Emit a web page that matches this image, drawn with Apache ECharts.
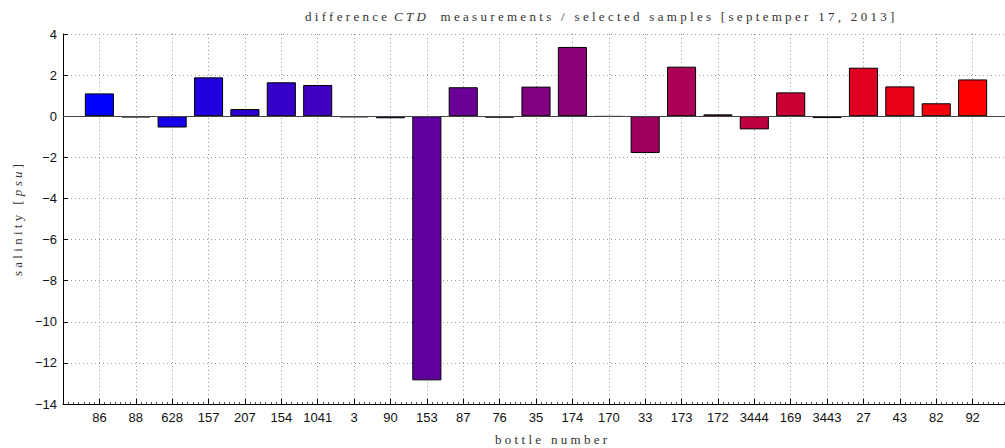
<!DOCTYPE html>
<html>
<head>
<meta charset="utf-8">
<script src="https://cdn.jsdelivr.net/npm/echarts@6/dist/echarts.min.js"></script>
<style>
  html, body { margin: 0; padding: 0; background: #fff; overflow: hidden; }
  #chart { width: 1012px; height: 448px; }
  /* spaced serif lettering for the title and axis names */
  #chart text[style*="Serif"] { letter-spacing: 3.3px; }
</style>
</head>
<body>
<div id="chart"></div>
<script>
// bottle numbers, in plotting order
const bottles = ['86', '88', '628', '157', '207', '154', '1041', '3', '90', '153', '87', '76', '35',
                 '174', '170', '33', '173', '172', '3444', '169', '3443', '27', '43', '82', '92'];
// salinity difference CTD - sample [psu]
const salinity = [1.11, -0.06, -0.55, 1.89, 0.35, 1.65, 1.52, -0.05, -0.10, -12.85, 1.41, -0.07, 1.44,
                  3.37, -0.02, -1.79, 2.41, 0.09, -0.64, 1.16, -0.09, 2.36, 1.45, 0.63, 1.79];
// y axis ticks
const yTicks = [-14, -12, -10, -8, -6, -4, -2, 0, 2, 4];

// blue-to-red colour ramp over the bottles
function rampColor(i, n) {
  const t = n > 1 ? i / (n - 1) : 0;
  const r = Math.round(255 * t), b = Math.round(255 * (1 - t));
  return 'rgb(' + r + ',0,' + b + ')';
}

const SERIF = 'Liberation Serif';
const SANS = 'Liberation Sans';
const serifText = { fontFamily: SERIF, fontSize: 13, fontWeight: 'normal', color: '#333' };

const chart = echarts.init(document.getElementById('chart'), null, { renderer: 'svg' });

chart.setOption({
  animation: false,
  backgroundColor: '#ffffff',
  title: [
    {
      left: 300, top: 5,
      text: '{a|difference }{i|CTD}{b| measurements / selected samples [septemper 17, 2013]}',
      textStyle: {
        fontWeight: 'normal',
        rich: {
          a: Object.assign({}, serifText, { width: 89 }),
          i: Object.assign({}, serifText, { fontStyle: 'italic', width: 40 }),
          b: Object.assign({}, serifText)
        }
      }
    },
    {
      left: 490, top: 428,
      text: 'bottle number',
      textStyle: serifText
    }
  ],
  grid: { left: 63, right: 1, top: 34, bottom: 44, containLabel: false },
  xAxis: {
    type: 'value',
    min: 0, max: bottles.length + 1, interval: 1,
    axisLine: { onZero: false, lineStyle: { color: '#000', width: 1 } },
    axisTick: { inside: true, length: 5, lineStyle: { color: '#000' } },
    minorTick: { show: true, splitNumber: 7, length: 2, lineStyle: { color: '#555' } },
    splitLine: { show: true, lineStyle: { color: '#999', type: [1, 3], width: 1 } },
    axisLabel: {
      margin: 7,
      fontFamily: SANS, fontSize: 13, color: '#111',
      formatter: v => bottles[v - 1] || ''
    }
  },
  yAxis: {
    type: 'value',
    min: yTicks[0], max: yTicks[yTicks.length - 1], interval: 2,
    name: '{a|salinity [}{i|psu}{c|]}',
    nameLocation: 'middle',
    nameGap: 34,
    nameRotate: 90,
    nameTextStyle: {
      rich: {
        a: Object.assign({}, serifText, { width: 78 }),
        i: Object.assign({}, serifText, { fontStyle: 'italic', width: 31 }),
        c: Object.assign({}, serifText)
      }
    },
    axisLine: { show: true, onZero: false, lineStyle: { color: '#000', width: 1 } },
    axisTick: { show: true, inside: true, length: 5, lineStyle: { color: '#000' } },
    splitLine: { show: true, lineStyle: { color: '#999', type: [1, 3], width: 1 } },
    axisLabel: {
      margin: 6,
      fontFamily: SANS, fontSize: 13, color: '#111',
      formatter: v => String(v).replace('-', '\u2212')
    }
  },
  series: [{
    type: 'bar',
    barWidth: '80%',
    data: salinity.map((v, i) => [i + 1, v]),
    itemStyle: {
      color: p => rampColor(p.dataIndex, salinity.length),
      borderColor: '#000',
      borderWidth: 1
    },
    markLine: {
      silent: true,
      symbol: 'none',
      label: { show: false },
      lineStyle: { color: '#444', type: 'solid', width: 1 },
      data: [{ yAxis: 0 }]
    }
  }]
});
</script>
</body>
</html>
